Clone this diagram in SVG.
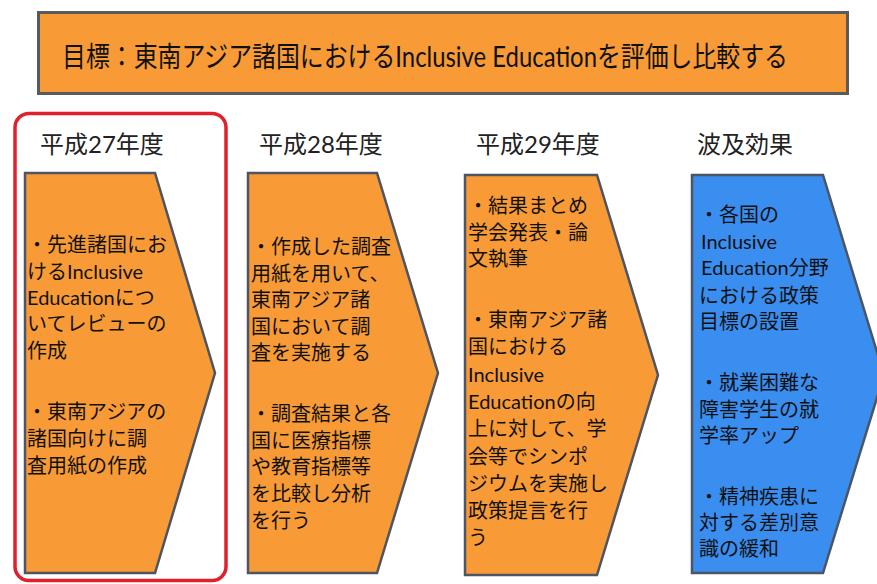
<svg xmlns="http://www.w3.org/2000/svg" width="877" height="584" viewBox="0 0 877 584">
<style>
.t{font-family:"Lato","Noto Sans CJK JP",sans-serif;fill:#111}
.body{font-size:20px}
.head{font-size:24px;fill:#222}
.orange{fill:#F89B36;stroke:#4B5563;stroke-width:2.5}
.blue{fill:#3A8EF0;stroke:#4B5563;stroke-width:2.5}
</style>
<rect width="877" height="584" fill="#ffffff"/>
<g id="goal">
<rect x="38.5" y="12.5" width="809" height="81" fill="#F89B36" stroke="#5a5a5a" stroke-width="3"/>
<text class="t" transform="translate(62,67) scale(1,1.15)" x="0" y="0" font-size="25" textLength="726" lengthAdjust="spacingAndGlyphs">目標：東南アジア諸国におけるInclusive Educationを評価し比較する</text>
</g>
<g id="highlight">
<rect x="15" y="113.5" width="211" height="467" rx="14" fill="none" stroke="#E0202C" stroke-width="3.5"/>
</g>
<g id="h27">
<text class="t head" x="40" y="153">平成27年度</text>
<polygon class="orange" points="25,173 155,173 215,373 155,573 25,573"/>
<g class="t body">
<text x="27" y="252">・先進諸国にお</text>
<text x="27" y="279">けるInclusive</text>
<text x="27" y="305">Educationにつ</text>
<text x="27" y="331">いてレビューの</text>
<text x="27" y="358">作成</text>
<text x="27" y="419">・東南アジアの</text>
<text x="27" y="446">諸国向けに調</text>
<text x="27" y="473">査用紙の作成</text>
</g>
</g>
<g id="h28">
<text class="t head" x="259" y="153">平成28年度</text>
<polygon class="orange" points="248,173 377,173 438,373 377,573 248,573"/>
<g class="t body">
<text x="251" y="254">・作成した調査</text>
<text x="251" y="281">用紙を用いて、</text>
<text x="251" y="307">東南アジア諸</text>
<text x="251" y="334">国において調</text>
<text x="251" y="360">査を実施する</text>
<text x="251" y="421">・調査結果と各</text>
<text x="251" y="448">国に医療指標</text>
<text x="251" y="474">や教育指標等</text>
<text x="251" y="501">を比較し分析</text>
<text x="251" y="528">を行う</text>
</g>
</g>
<g id="h29">
<text class="t head" x="476" y="153">平成29年度</text>
<polygon class="orange" points="465,175 597,175 658,375 597,575 465,575"/>
<g class="t body">
<text x="468" y="213">・結果まとめ</text>
<text x="468" y="240">学会発表・論</text>
<text x="468" y="266">文執筆</text>
<text x="468" y="327">・東南アジア諸</text>
<text x="468" y="354">国における</text>
<text x="468" y="382">Inclusive</text>
<text x="468" y="409">Educationの向</text>
<text x="468" y="436">上に対して、学</text>
<text x="468" y="464">会等でシンポ</text>
<text x="468" y="491">ジウムを実施し</text>
<text x="468" y="518">政策提言を行</text>
<text x="468" y="545">う</text>
</g>
</g>
<g id="effects">
<text class="t head" x="697" y="153">波及効果</text>
<polygon class="blue" points="692,175 823,175 884,375 823,573 692,573"/>
<g class="t body">
<text x="699" y="222">・各国の</text>
<text x="701" y="249">Inclusive</text>
<text x="701" y="275">Education分野</text>
<text x="699" y="303">における政策</text>
<text x="699" y="329">目標の設置</text>
<text x="699" y="390">・就業困難な</text>
<text x="699" y="417">障害学生の就</text>
<text x="699" y="443">学率アップ</text>
<text x="699" y="504">・精神疾患に</text>
<text x="699" y="530">対する差別意</text>
<text x="699" y="556">識の緩和</text>
</g>
</g>
<g id="connectors"/>
</svg>
